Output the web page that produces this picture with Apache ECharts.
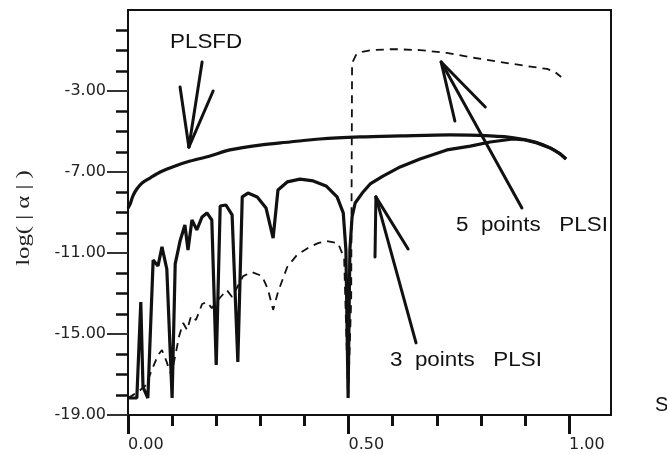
<!DOCTYPE html>
<html><head><meta charset="utf-8">
<script src="https://cdn.jsdelivr.net/npm/echarts@6/dist/echarts.min.js"></script>
<style>html,body{margin:0;padding:0;background:#fff}#c{width:667px;height:454px}</style>
</head><body><div id="c"></div>
<script>
// ---- data ----
const xMax = 1.095;
const yMin = -19, yMax = 1;
const xMajorTicks = [0, 0.5, 1.0];
const xMinorTicks = [0.1, 0.2, 0.3, 0.4, 0.6, 0.7, 0.8, 0.9];
const yMajorTicks = [-19, -15, -11, -7, -3];
const yMinorTicks = [-18, -17, -16, -14, -13, -12, -10, -9, -8, -6, -5, -4, -2, -1, 0];

// PLSFD (solid)
const plsfd = [[0,-8.78],[0.005,-8.58],[0.011,-8.19],[0.020,-7.84],[0.032,-7.54],[0.050,-7.30],[0.073,-7.00],[0.107,-6.70],[0.141,-6.46],[0.186,-6.21],[0.231,-5.91],[0.299,-5.67],[0.367,-5.52],[0.435,-5.37],[0.526,-5.27],[0.617,-5.22],[0.730,-5.17],[0.821,-5.22],[0.878,-5.32],[0.923,-5.52],[0.957,-5.81],[0.980,-6.11],[0.993,-6.36]];

// 3 points PLSI (solid)
const plsi3 = [[0,-18.16],[0.020,-18.16],[0.029,-13.42],[0.034,-17.62],[0.045,-18.16],[0.057,-11.35],[0.068,-11.64],[0.077,-10.70],[0.088,-11.79],[0.100,-18.16],[0.107,-11.54],[0.118,-10.41],[0.129,-9.62],[0.136,-10.85],[0.145,-9.37],[0.156,-9.86],[0.168,-9.22],[0.179,-9.02],[0.190,-9.37],[0.200,-16.53],[0.209,-8.68],[0.222,-8.63],[0.236,-9.12],[0.249,-16.38],[0.259,-8.23],[0.272,-8.04],[0.293,-8.23],[0.313,-8.78],[0.329,-10.26],[0.340,-7.89],[0.361,-7.49],[0.390,-7.35],[0.420,-7.44],[0.449,-7.69],[0.474,-8.23],[0.488,-9.02],[0.494,-10.85],[0.499,-18.16],[0.503,-10.85],[0.508,-9.22],[0.515,-8.53],[0.531,-8.04],[0.549,-7.59],[0.578,-7.20],[0.617,-6.75],[0.662,-6.36],[0.723,-5.91],[0.776,-5.72],[0.821,-5.52],[0.873,-5.37],[0.900,-5.42],[0.927,-5.57],[0.957,-5.81],[0.980,-6.11],[0.993,-6.36]];

// 5 points PLSI (dashed)
const plsi5 = [[0,-18.16],[0.023,-17.86],[0.041,-17.52],[0.054,-16.78],[0.068,-16.04],[0.077,-15.79],[0.086,-16.28],[0.098,-17.02],[0.107,-16.09],[0.116,-15.10],[0.125,-14.46],[0.134,-14.80],[0.143,-14.11],[0.154,-14.31],[0.168,-13.52],[0.179,-13.42],[0.190,-13.72],[0.204,-13.32],[0.224,-12.83],[0.236,-13.17],[0.261,-12.14],[0.281,-11.94],[0.304,-12.14],[0.317,-12.78],[0.329,-13.81],[0.340,-12.93],[0.361,-11.69],[0.383,-11.10],[0.408,-10.75],[0.431,-10.51],[0.451,-10.41],[0.476,-10.51],[0.490,-11.25],[0.499,-18.16],[0.506,-13.32],[0.508,-1.62],[0.517,-1.22],[0.531,-1.07],[0.553,-0.98],[0.601,-0.93],[0.662,-0.98],[0.723,-1.12],[0.787,-1.37],[0.844,-1.57],[0.905,-1.77],[0.950,-1.91],[0.968,-2.06],[0.982,-2.31]];

// annotation arrows: [tip, shaft end, barb 1, barb 2] in data coordinates
const arrowPLSFD = [[0.138,-5.77],[0.168,-1.57],[0.118,-2.80],[0.193,-3.00]];
const arrow5pts  = [[0.710,-1.57],[0.893,-8.78],[0.741,-4.48],[0.810,-3.79]];
const arrow3pts  = [[0.562,-8.23],[0.653,-15.44],[0.560,-11.20],[0.635,-10.80]];

// ---- chart ----
const ink = '#111';
function arrowLines(a) {
  return [[{coord:a[0]},{coord:a[1]}],[{coord:a[0]},{coord:a[2]}],[{coord:a[0]},{coord:a[3]}]];
}
const tickFont = {color:'#222', fontFamily:'DejaVu Sans', fontSize:16};
const chart = echarts.init(document.getElementById('c'));
chart.setOption({
  animation: false,
  backgroundColor: '#fff',
  grid: {left:128, right:56, top:10, bottom:39, show:true, borderColor:ink, borderWidth:2, backgroundColor:'transparent'},
  xAxis: [
    {type:'value', min:0, max:xMax, position:'bottom',
     axisLine:{show:true, onZero:false, lineStyle:{color:ink, width:2}},
     axisTick:{show:true, customValues:xMajorTicks, length:19, lineStyle:{color:ink, width:3}},
     axisLabel:Object.assign({show:true, customValues:xMajorTicks, formatter:v=>v.toFixed(2), align:'left', margin:22}, tickFont),
     splitLine:{show:false}},
    {type:'value', min:0, max:xMax, position:'bottom', offset:0,
     axisLine:{show:false, onZero:false},
     axisTick:{show:true, customValues:xMinorTicks, length:11, lineStyle:{color:ink, width:3}},
     axisLabel:{show:false}, splitLine:{show:false}}
  ],
  yAxis: [
    {type:'value', min:yMin, max:yMax, position:'left',
     axisLine:{show:true, onZero:false, lineStyle:{color:ink, width:2}},
     axisTick:{show:true, customValues:yMajorTicks, length:21, lineStyle:{color:'#333', width:2}},
     axisLabel:Object.assign({show:true, customValues:yMajorTicks, formatter:v=>v.toFixed(2), margin:22}, tickFont),
     splitLine:{show:false}},
    {type:'value', min:yMin, max:yMax, position:'left', offset:0,
     axisLine:{show:false, onZero:false},
     axisTick:{show:true, customValues:yMinorTicks, length:12, lineStyle:{color:ink, width:2.5}},
     axisLabel:{show:false}, splitLine:{show:false}}
  ],
  series: [
    {name:'PLSFD', type:'line', data:plsfd, xAxisIndex:0, yAxisIndex:0, showSymbol:false, smooth:0.3,
     lineStyle:{color:ink, width:3.2}, emphasis:{disabled:true},
     markLine:{silent:true, symbol:['none','none'], label:{show:false}, emphasis:{disabled:true},
       lineStyle:{type:'solid', color:ink, width:3, cap:'round'},
       data:[...arrowLines(arrowPLSFD), ...arrowLines(arrow5pts), ...arrowLines(arrow3pts)]}},
    {name:'3 points PLSI', type:'line', data:plsi3, xAxisIndex:0, yAxisIndex:0, showSymbol:false,
     lineStyle:{color:ink, width:3.2}, emphasis:{disabled:true}},
    {name:'5 points PLSI', type:'line', data:plsi5, xAxisIndex:0, yAxisIndex:0, showSymbol:false,
     lineStyle:{color:ink, width:1.8, type:[8,6]}, emphasis:{disabled:true}}
  ],
  graphic: [
    {type:'text', x:170, y:42, scaleX:1.12, silent:true,
     style:{text:'PLSFD', fontFamily:'Liberation Sans', fontSize:20, fill:ink, align:'left', verticalAlign:'middle', textAlign:'left', textVerticalAlign:'middle'}},
    {type:'text', x:456, y:225, scaleX:1.12, silent:true,
     style:{text:'5  points   PLSI', fontFamily:'Liberation Sans', fontSize:20, fill:ink, align:'left', verticalAlign:'middle', textAlign:'left', textVerticalAlign:'middle'}},
    {type:'text', x:390, y:360, scaleX:1.12, silent:true,
     style:{text:'3  points   PLSI', fontFamily:'Liberation Sans', fontSize:20, fill:ink, align:'left', verticalAlign:'middle', textAlign:'left', textVerticalAlign:'middle'}},
    {type:'text', x:24, y:218, rotation:Math.PI/2, scaleX:1.3, silent:true,
     style:{text:'log( | α | )', fontFamily:'Liberation Serif', fontSize:19, fill:'#222', align:'center', verticalAlign:'middle', textAlign:'center', textVerticalAlign:'middle'}},
    {type:'text', x:655, y:405, silent:true,
     style:{text:'S', fontFamily:'Liberation Sans', fontSize:20, fill:ink, align:'left', verticalAlign:'middle', textAlign:'left', textVerticalAlign:'middle'}}
  ]
});
</script></body></html>
